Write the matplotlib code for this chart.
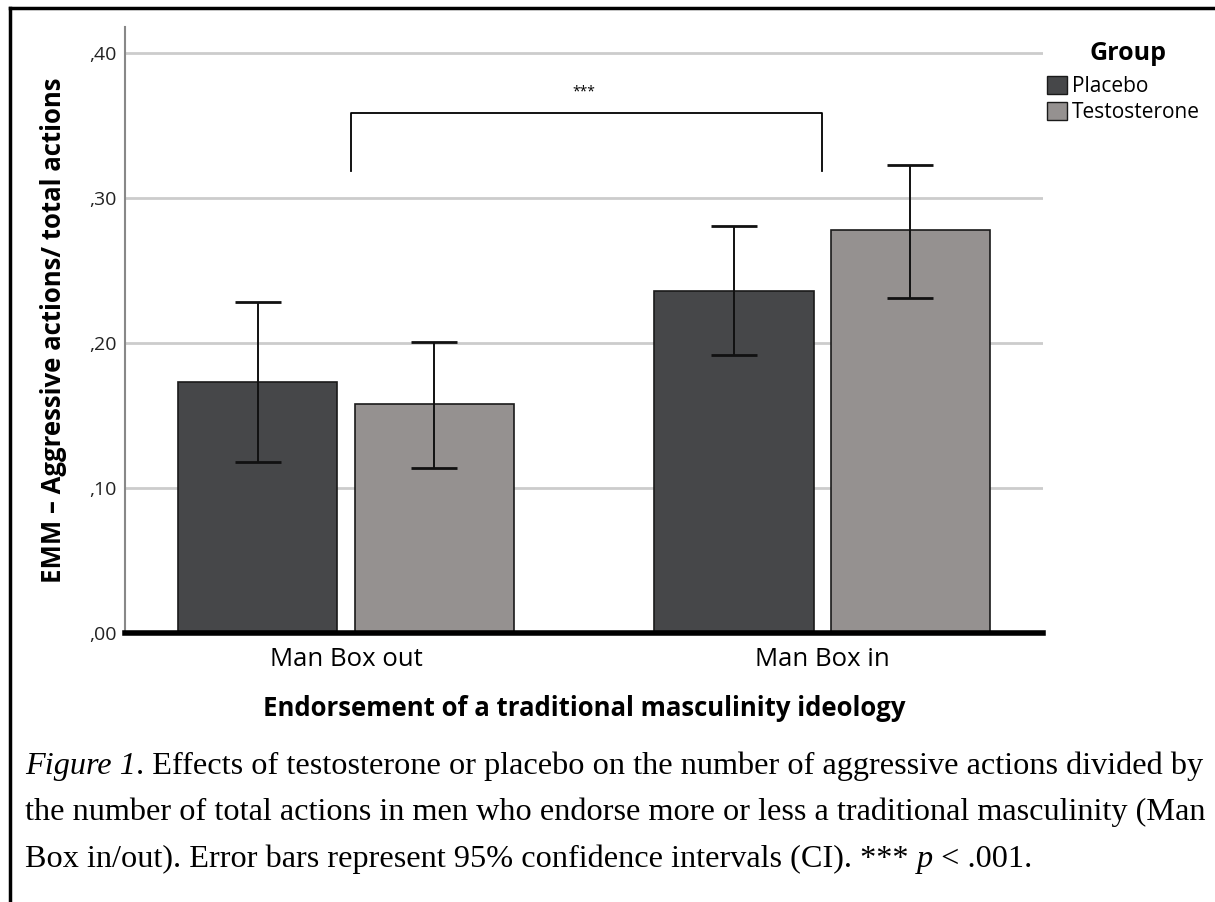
import numpy as np
import matplotlib
matplotlib.use("Agg")
from matplotlib import pyplot as plt
from matplotlib.lines import Line2D
from matplotlib.patches import Patch
from matplotlib.ticker import FuncFormatter

groups = ["Man Box out", "Man Box in"]
series = ["Placebo", "Testosterone"]
placebo_mean = [0.173, 0.236]
placebo_lo = [0.118, 0.192]
placebo_hi = [0.228, 0.281]
testo_mean = [0.158, 0.278]
testo_lo = [0.114, 0.231]
testo_hi = [0.201, 0.323]
yticks = [0.0, 0.1, 0.2, 0.3, 0.4]

# bracket for the significance mark
bracket_low = 0.319
bracket_high = 0.359
sig_label = "***"

colors = ["#464749", "#959190"]
sans = ["Open Sans", "DejaVu Sans"]
serif = ["Liberation Serif", "DejaVu Serif"]

fig = plt.figure(figsize=(12.15, 9.02), dpi=100)
ax = fig.add_axes([125 / 1215, 1 - 633 / 902, (1043 - 125) / 1215, (633 - 27) / 902])

x = np.arange(len(groups))
w = 0.334
gap = 0.036
offsets = [-(w + gap) / 2, (w + gap) / 2]
means = [placebo_mean, testo_mean]
los = [placebo_lo, testo_lo]
his = [placebo_hi, testo_hi]

for i in range(2):
    m = np.array(means[i])
    err = np.array([m - np.array(los[i]), np.array(his[i]) - m])
    ax.bar(x + offsets[i], m, width=w, color=colors[i], edgecolor="#1a1a1a",
           linewidth=1.2, zorder=3)
    ax.errorbar(x + offsets[i], m, yerr=err, fmt="none", ecolor="#111111",
                elinewidth=1.4, capsize=16.5, capthick=2.0, zorder=4)

# significance bracket
ax.plot([x[0] + 0.01, x[0] + 0.01, x[1], x[1]],
        [bracket_low, bracket_high, bracket_high, bracket_low],
        color="black", linewidth=1.3, zorder=4)
ax.text((x[0] + x[1]) / 2, bracket_high + 0.009, sig_label, ha="center",
        va="bottom", fontsize=10, family=sans)

ax.set_xlim(-0.464, 1.464)
ax.set_ylim(0, 0.418)
ax.set_yticks(yticks)
ax.yaxis.set_major_formatter(FuncFormatter(lambda v, p: f"{v:.2f}"[1:].replace(".", ",")))
ax.set_xticks(x)
ax.set_xticklabels(groups, fontsize=18.5, family=sans)
for lab in ax.get_yticklabels():
    lab.set_fontsize(14)
    lab.set_family(sans)
ax.tick_params(axis="y", length=0, pad=6, colors="#222222")
ax.tick_params(axis="x", length=0, pad=10)
ax.grid(axis="y", color="#cccccc", linewidth=2, zorder=0)
ax.set_axisbelow(True)

for s in ["top", "right"]:
    ax.spines[s].set_visible(False)
ax.spines["left"].set_color("#888888")
ax.spines["left"].set_linewidth(1.5)
ax.spines["bottom"].set_color("black")
ax.spines["bottom"].set_linewidth(4)
ax.spines["bottom"].set_zorder(5)

ax.set_ylabel("EMM – Aggressive actions/ total actions", fontsize=18.5,
              fontweight="bold", family=sans, labelpad=16)
ax.set_xlabel("Endorsement of a traditional masculinity ideology", fontsize=18.5,
              fontweight="bold", family=sans, labelpad=17)

# legend (title drawn separately to get the spacing right)
fig.text(1128 / 1215, 1 - 53 / 902, "Group", fontsize=18, fontweight="bold",
         family=sans, ha="center", va="center")
handles = [Patch(facecolor=colors[i], edgecolor="#1a1a1a", linewidth=1.0, label=series[i])
           for i in range(2)]
leg = fig.legend(handles=handles, loc="upper left",
                 bbox_to_anchor=(1047 / 1215, 1 - 76 / 902), frameon=False,
                 prop={"family": sans, "size": 15}, handlelength=0.95,
                 handleheight=0.95, handletextpad=0.25, labelspacing=0.25,
                 borderaxespad=0, borderpad=0)

# caption
fig.canvas.draw()
renderer = fig.canvas.get_renderer()
cap_size = 23.2


def caption_line(parts, y):
    xpos = 25 / 1215
    for txt, style in parts:
        t = fig.text(xpos, y, txt, fontsize=cap_size, family=serif, style=style,
                     va="baseline", ha="left")
        bb = t.get_window_extent(renderer=renderer)
        xpos += bb.width / fig.bbox.width


caption_line([("Figure 1", "italic"),
              (". Effects of testosterone or placebo on the number of aggressive actions divided by", "normal")],
             1 - 774 / 902)
caption_line([("the number of total actions in men who endorse more or less a traditional masculinity (Man", "normal")],
             1 - 820 / 902)
caption_line([("Box in/out). Error bars represent 95% confidence intervals (CI). *** ", "normal"),
              ("p", "italic"), (" < .001.", "normal")],
             1 - 867 / 902)

# figure frame (left and top edges)
fig.add_artist(Line2D([10 / 1215, 10 / 1215], [0, 1 - 8 / 902], color="black",
                      linewidth=2.5, transform=fig.transFigure))
fig.add_artist(Line2D([10 / 1215, 1], [1 - 8 / 902, 1 - 8 / 902], color="black",
                      linewidth=2.5, transform=fig.transFigure))

fig.savefig("out.png", dpi=100)
